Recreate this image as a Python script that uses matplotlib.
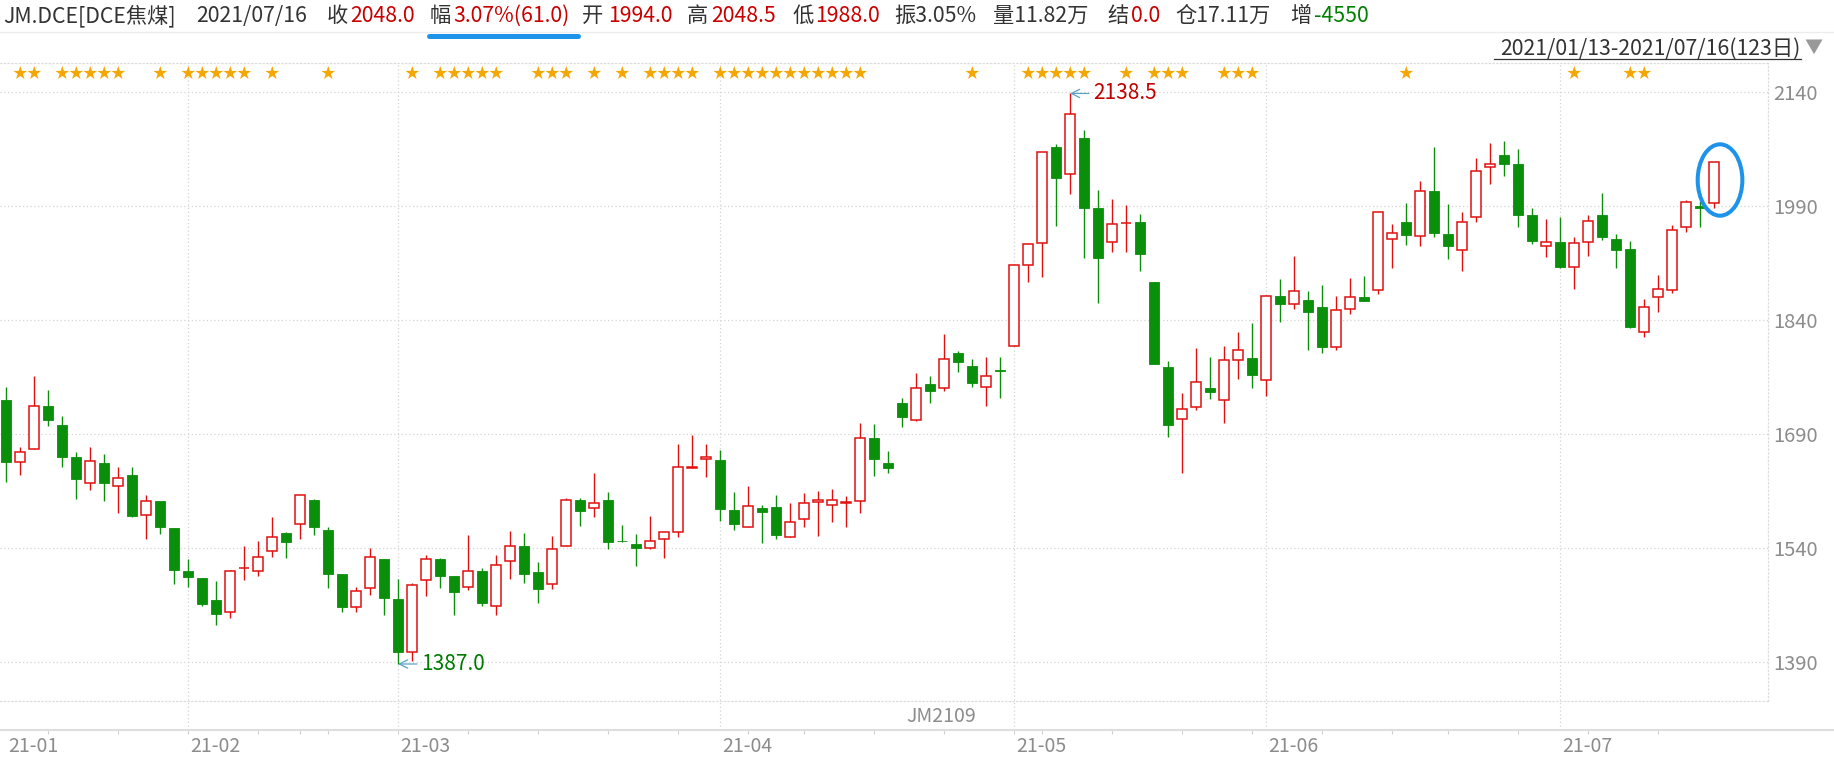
import numpy as np
import matplotlib
matplotlib.use('Agg')
import matplotlib.pyplot as plt
from matplotlib.patches import Ellipse

plt.rcParams['font.family'] = ['Noto Sans CJK SC', 'DejaVu Sans']

# ---- data (JM2109, 2021/01/13 - 2021/07/16, 123 trading days) ----
opens = [1735, 1653, 1670, 1727, 1702, 1659, 1625, 1652, 1621, 1636,
         1583, 1602, 1566, 1510, 1500, 1471, 1455, 1513, 1510, 1536,
         1560, 1571, 1603, 1564, 1506, 1462, 1487, 1525, 1473, 1403,
         1498, 1525, 1503, 1488, 1510, 1463, 1523, 1543, 1508, 1492,
         1543, 1603, 1592, 1603, 1549.5, 1545, 1540, 1552, 1561, 1645,
         1657, 1656, 1590, 1567, 1593, 1594, 1554, 1578, 1600, 1597,
         1599.5, 1602, 1685, 1652, 1731, 1709, 1756, 1751, 1796, 1779,
         1752, 1774, 1806, 1913, 1941, 2068, 2032, 2080, 1987, 1943,
         1967.5, 1969, 1890, 1778, 1710, 1726, 1750, 1735, 1788, 1790,
         1761, 1872, 1861, 1867, 1857, 1804, 1854, 1871, 1880, 1947,
         1969, 1951, 2010, 1954, 1932, 1976, 2041, 2057, 2045, 1978,
         1938, 1943, 1910, 1943, 1979, 1947, 1934, 1824, 1871, 1880,
         1963, 1990, 1994]
highs = [1752, 1673, 1767, 1748, 1714, 1666, 1673, 1663, 1646, 1646,
         1610, 1602, 1566, 1525, 1500, 1496, 1511, 1543, 1549, 1580,
         1561, 1610, 1604, 1567, 1506, 1488, 1540, 1525, 1499, 1494,
         1531, 1526, 1503, 1557, 1513, 1531, 1562, 1560, 1521, 1556,
         1605, 1605, 1638, 1614, 1570, 1558, 1582, 1561, 1677, 1688,
         1677, 1669, 1614, 1622, 1596, 1609, 1599, 1612, 1615, 1618,
         1608, 1704, 1703, 1668, 1737, 1770, 1767, 1822, 1799, 1789,
         1792, 1792, 1912, 1942, 2061, 2072, 2138.5, 2090, 2011, 1999,
         1991, 1980, 1890, 1786, 1744, 1803, 1792, 1806, 1824, 1836,
         1873, 1894, 1924, 1878, 1886, 1872, 1895, 1898, 1983, 1966,
         1994, 2023, 2068, 1993, 1983, 2053, 2073, 2076, 2066, 1987,
         1973, 1976, 1949, 1978, 2007, 1954, 1944, 1868, 1899, 1965,
         1998, 1997, 2048.5]
lows = [1627, 1636, 1670, 1701, 1647, 1604, 1616, 1602, 1586, 1581,
        1552, 1558, 1492, 1489, 1464, 1439, 1447, 1497, 1503, 1528,
        1527, 1552, 1557, 1487, 1456, 1456, 1478, 1451, 1387, 1391,
        1477, 1487, 1451, 1484, 1464, 1452, 1499, 1494, 1468, 1486,
        1542, 1569, 1581, 1538, 1548, 1516, 1538, 1527, 1554, 1645,
        1633, 1576, 1564, 1567, 1547, 1552, 1554, 1567, 1556, 1574,
        1568, 1586, 1635, 1638, 1699, 1707, 1731, 1746, 1771, 1752,
        1727, 1738, 1806, 1890, 1897, 1964, 2006, 1922, 1863, 1930,
        1930, 1904, 1782, 1686, 1639, 1721, 1736, 1704, 1763, 1750,
        1740, 1838, 1855, 1801, 1797, 1800, 1848, 1865, 1874, 1908,
        1939, 1937, 1950, 1921, 1905, 1969, 2019, 2030, 1963, 1940,
        1923, 1908, 1881, 1925, 1945, 1909, 1829, 1818, 1851, 1876,
        1956, 1963, 1988]
closes = [1653, 1666, 1727, 1708, 1659, 1631, 1654, 1625, 1632, 1582,
          1602, 1567, 1511, 1501, 1466, 1453, 1510, 1514, 1528, 1554,
          1548, 1610, 1568, 1506, 1462, 1483, 1528, 1474, 1403, 1491,
          1525, 1503, 1482, 1510, 1468, 1517, 1543, 1506, 1486, 1538,
          1603, 1589, 1599, 1548, 1548.5, 1540, 1549, 1561, 1646, 1646.5,
          1660, 1591, 1571, 1595, 1587, 1557, 1574, 1599, 1603, 1603,
          1600.5, 1685, 1657, 1645, 1712, 1751, 1746, 1789, 1785, 1757,
          1766, 1773, 1912, 1940, 2061, 2027, 2111, 1988, 1922, 1966,
          1968.5, 1927, 1782, 1702, 1723, 1758, 1745, 1787, 1801, 1768,
          1872, 1861, 1878, 1851, 1804, 1853, 1871, 1865, 1982, 1955,
          1952, 2010, 1955, 1938, 1969, 2037, 2045, 2046, 1979, 1944,
          1943.5, 1910, 1942, 1970, 1950, 1932, 1831, 1857, 1881, 1959,
          1996, 1987, 2048]

month_idx = [0, 13, 28, 51, 72, 90, 111]
month_labels = ['21-01', '21-02', '21-03', '21-04', '21-05', '21-06', '21-07']
week_idx = [3, 8, 13, 18, 21, 23, 28, 33, 38, 43, 48, 53, 57, 62, 67, 72, 74,
            79, 84, 89, 94, 99, 103, 108, 113, 118]
star_idx = [1, 2, 4, 5, 6, 7, 8, 11, 13, 14, 15, 16, 17, 19, 23, 29, 31, 32,
            33, 34, 35, 38, 39, 40, 42, 44, 46, 47, 48, 49, 51, 52, 53, 54,
            55, 56, 57, 58, 59, 60, 61, 69, 73, 74, 75, 76, 77, 80, 82, 83,
            84, 87, 88, 89, 100, 112, 116, 117]
yticks = [1390, 1540, 1690, 1840, 1990, 2140]
hi_idx, hi_val = 76, 2138.5
lo_idx, lo_val = 28, 1387.0

header_parts = ['JM.DCE[DCE焦煤]', '2021/07/16', '收', '2048.0', '幅',
                '3.07%(61.0)', '开', '1994.0', '高', '2048.5', '低', '1988.0',
                '振3.05%', '量11.82万', '结', '0.0', '仓17.11万', '增', '-4550']
header_kind = ['t', 't', 't', 'r', 't', 'r', 't', 'r', 't', 'r', 't', 'r',
               't', 't', 't', 'r', 't', 't', 'g']
header_x = [3, 196, 327, 350, 430, 453, 582, 608, 687, 711, 792, 815,
            894, 993, 1107, 1131, 1175, 1290, 1314]
range_text = '2021/01/13-2021/07/16(123日)'
contract = 'JM2109'

# ---- style ----
RED = '#e0100f'
GREEN = '#0a8f0a'
DARK = '#333333'
GRAY = '#8c8c8c'
GRID = '#d4d4d4'
kind_color = {'t': DARK, 'r': '#c80000', 'g': '#008000'}

W, H = 1834, 764
fig = plt.figure(figsize=(W / 100, H / 100), dpi=100)
fig.patch.set_facecolor('white')


def fx(px):
    return px / W


def fy(py):
    return 1 - py / H


top_px, bot_px, right_px = 63, 701, 1768
ax = fig.add_axes([0, fy(bot_px), fx(right_px), fy(top_px) - fy(bot_px)])
ppu = 0.7592          # pixels per price unit
ax.set_xlim(-6 / 14, (right_px - 6) / 14)
ax.set_ylim(1990 - (bot_px - 206.2) / ppu, 1990 + (206.2 - top_px) / ppu)


def axfrac(py):
    return (bot_px - py) / (bot_px - top_px)


o = np.array(opens, float)
h = np.array(highs, float)
l = np.array(lows, float)
c = np.array(closes, float)
idx = np.arange(len(o))
up = c >= o

# grid
for p in yticks:
    ax.axhline(p, color=GRID, lw=0.9, ls=(0, (1, 2)), zorder=0)
for k in month_idx[1:]:
    ax.axvline(k, ymin=axfrac(730), ymax=1, color=GRID, lw=0.9,
               ls=(0, (1, 2)), zorder=0, clip_on=False)

# candles
ax.vlines(idx[up], l[up], h[up], colors=RED, lw=1.0, zorder=2)
ax.vlines(idx[~up], l[~up], h[~up], colors=GREEN, lw=1.0, zorder=2)
ax.bar(idx[up], c[up] - o[up], bottom=o[up], width=0.7, facecolor='white',
       edgecolor=RED, lw=1.1, zorder=3)
ax.bar(idx[~up], o[~up] - c[~up], bottom=c[~up], width=0.74,
       facecolor=GREEN, edgecolor=GREEN, lw=0.6, zorder=3)

# stars
for k in star_idx:
    ax.text(k, axfrac(74), '★', transform=ax.get_xaxis_transform(),
            ha='center', va='center', fontsize=10.5, color='#f4a700')

# high / low marks
ax.annotate(f'{hi_val:.1f}', xy=(hi_idx, hi_val), xytext=(hi_idx + 1.65, hi_val),
            va='center', ha='left', fontsize=15, color='#c00000',
            arrowprops=dict(arrowstyle='->', color='#5aa3c8', lw=0.9,
                            shrinkA=1, shrinkB=0))
ax.annotate(f'{lo_val:.1f}', xy=(lo_idx, lo_val), xytext=(lo_idx + 1.65, lo_val),
            va='center', ha='left', fontsize=15, color='#007a00',
            arrowprops=dict(arrowstyle='->', color='#5aa3c8', lw=0.9,
                            shrinkA=1, shrinkB=0))

# highlight circle around the last bar
ax.add_patch(Ellipse((len(o) - 1 + 0.43, 2024.5), 3.19, 94, fill=False,
                     edgecolor='#1e93ea', lw=2.9, zorder=5, clip_on=False))

# axes look
ax.set_xticks([])
ax.set_yticks(yticks)
ax.yaxis.tick_right()
ax.tick_params(axis='y', length=0, pad=4, labelsize=14.5, labelcolor=GRAY)
ax.spines['left'].set_visible(False)
for s in ['top', 'right', 'bottom']:
    ax.spines[s].set_color('#dddddd')
    ax.spines[s].set_linestyle((0, (1, 2)))
    ax.spines[s].set_linewidth(0.9)

# month labels and week ticks
xt = ax.get_xaxis_transform()
for k, lab in zip(month_idx, month_labels):
    ax.text(k + 0.15, axfrac(746), lab, transform=xt, ha='left', va='center',
            fontsize=14, color=GRAY)
ax.vlines(week_idx, axfrac(734), axfrac(730), transform=xt, colors='#d0d0d0',
          lw=0.8, clip_on=False)

# overlay in pixel coordinates for header and frame lines
ov = fig.add_axes([0, 0, 1, 1], facecolor='none')
ov.set_xlim(0, W)
ov.set_ylim(H, 0)
ov.axis('off')

ov.plot([0, W], [32, 32], color='#ececec', lw=1)
ov.plot([0, W], [730, 730], color='#dedede', lw=1.5)
for txt, kind, x in zip(header_parts, header_kind, header_x):
    ov.text(x, 16, txt, ha='left', va='center', fontsize=15.3,
            color=kind_color[kind])
ov.plot([429, 578], [35.5, 35.5], color='#1e93ea', lw=3.6,
        solid_capstyle='round')

ov.text(1801, 49, range_text, ha='right', va='center', fontsize=15.3,
        color=DARK)
ov.plot([1494, 1801], [58.5, 58.5], color=DARK, lw=0.9)
ov.text(1813, 48, '▼', ha='center', va='center', fontsize=13, color='#999999')
ov.text(941, 717, contract, ha='center', va='center', fontsize=14, color=GRAY)

fig.savefig('out.png', dpi=100, facecolor='white')
